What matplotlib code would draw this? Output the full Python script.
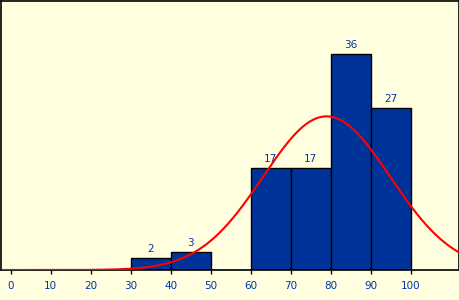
import numpy as np
import matplotlib
matplotlib.use("Agg")
import matplotlib.pyplot as plt

# Data
bin_starts = [30, 40, 50, 60, 70, 80, 90]
counts = [2, 3, 0, 17, 17, 36, 27]
bin_width = 10
tick_values = [0, 10, 20, 30, 40, 50, 60, 70, 80, 90, 100]
tick_labels = ["0", "10", "20", "30", "40", "50", "60", "70", "80", "90", "100"]
# fitted normal curve parameters
curve_mean = 79.0
curve_sd = 15.9

bg = "#FFFFE0"
bar_color = "#003399"
text_color = "#0033AA"

fig = plt.figure(figsize=(4.6, 3.0), dpi=100, facecolor=bg)
ax = fig.add_axes([1 / 460, 30 / 300, 458 / 460, 269 / 300], facecolor=bg)

ax.bar(bin_starts, counts, width=bin_width, align="edge", color=bar_color,
       edgecolor="black", linewidth=1.0, zorder=2)
for x0, c in zip(bin_starts, counts):
    if c > 0:
        ax.annotate(str(c), (x0 + bin_width / 2, c), xytext=(0, 3),
                    textcoords="offset points", ha="center", va="bottom",
                    fontsize=7.5, color=text_color, zorder=3)

total = sum(counts)
xs = np.linspace(-5, 115, 600)
ys = total * bin_width / (curve_sd * np.sqrt(2 * np.pi)) * np.exp(-0.5 * ((xs - curve_mean) / curve_sd) ** 2)
ax.plot(xs, ys, color="#FF0000", linewidth=1.5, zorder=4)

ax.set_xlim(-2.4, 112.1)
ax.set_ylim(0, 44.8)
ax.set_xticks(tick_values)
ax.set_xticklabels(tick_labels, fontsize=7.5, color=text_color)
ax.set_yticks([])
ax.tick_params(axis="x", direction="out", length=3, width=1, color="black", pad=5)
for s in ax.spines.values():
    s.set_color("black")
    s.set_linewidth(1.2)

fig.savefig("out.png", dpi=100, facecolor=bg)
